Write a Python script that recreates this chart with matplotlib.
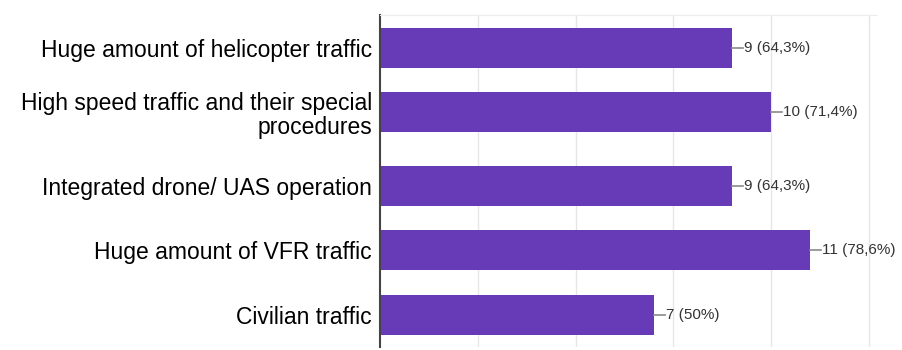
import numpy as np
import matplotlib.pyplot as plt

categories = [
    "Huge amount of helicopter traffic",
    "High speed traffic and their special\nprocedures",
    "Integrated drone/ UAS operation",
    "Huge amount of VFR traffic",
    "Civilian traffic",
]
counts = [9, 10, 9, 11, 7]
value_labels = ["9 (64,3%)", "10 (71,4%)", "9 (64,3%)", "11 (78,6%)", "7 (50%)"]

BAR_COLOR = "#673ab7"

# a two-line label pushes the next bar down a bit
pos = [0.0]
for lab in categories[:-1]:
    pos.append(pos[-1] + 1 + 0.15 * (lab.count("\n")))
pos = np.array(pos)

fig = plt.figure(figsize=(9.03, 3.5), dpi=100)
ax = fig.add_axes([0.421, 0.009, 0.55, 0.948])

ax.barh(pos, counts, height=0.62, color=BAR_COLOR, zorder=2)

for y, c, txt in zip(pos, counts, value_labels):
    ax.plot([c, c + 0.28], [y, y], color="#8a8a8a", lw=1.2, zorder=3)
    ax.text(c + 0.3, y, txt, va="center", ha="left", fontsize=11,
            color="#333333", family=["Liberation Sans", "DejaVu Sans"])

ax.set_xlim(0, 12.7)
ax.set_ylim(pos[-1] + 0.5, -0.51)
ax.set_xticks([2.5, 5, 7.5, 10, 12.5])
ax.set_xticklabels([])
ax.grid(axis="x", color="#e6e6e6", lw=1, zorder=0)
ax.tick_params(axis="both", length=0)
ax.set_yticks(pos)
ax.set_yticklabels(categories, fontsize=16.5, family=["Liberation Sans", "DejaVu Sans"],
                   linespacing=1.05)
for t in ax.get_yticklabels():
    t.set_horizontalalignment("right")
    t.set_multialignment("right")
ax.tick_params(axis="y", pad=6)

ax.spines["left"].set_color("#444444")
ax.spines["left"].set_linewidth(1.5)
ax.spines["top"].set_color("#ececec")
ax.spines["right"].set_visible(False)
ax.spines["bottom"].set_visible(False)

fig.savefig("out.png", dpi=100)
